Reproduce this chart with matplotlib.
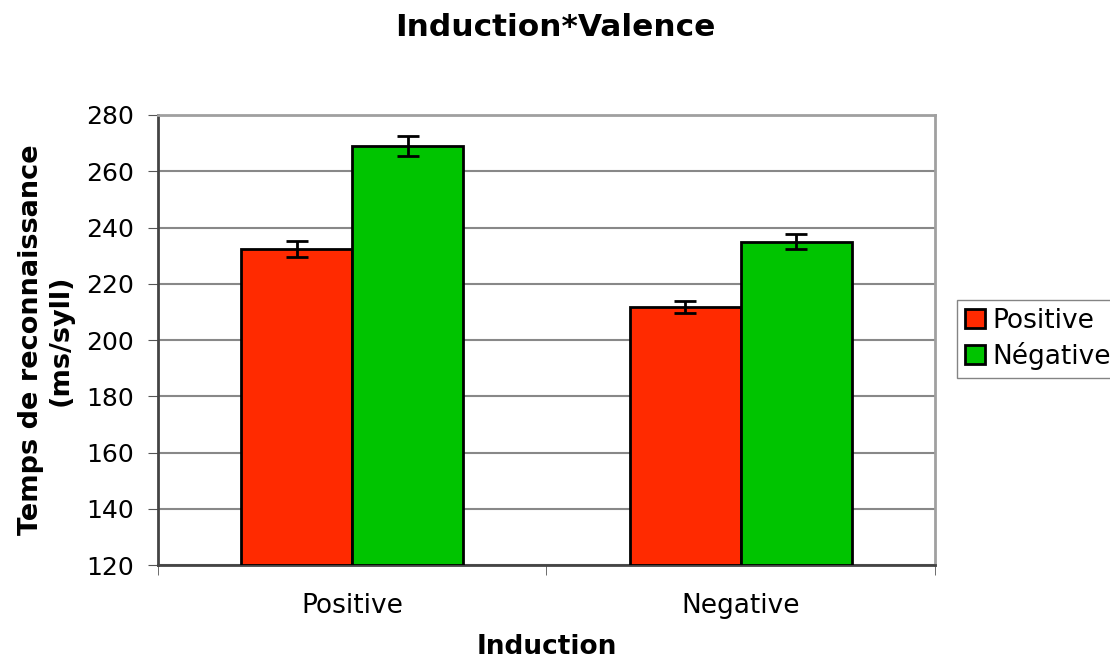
import matplotlib

matplotlib.use("Agg")

import matplotlib.pyplot as plt
import numpy as np

categories = ["Positive", "Negative"]
series_names = ["Positive", "Négative"]
means_positive = [232.4, 211.7]
means_negative = [269.0, 235.0]
err_positive = [2.8, 2.1]
err_negative = [3.5, 2.6]
colors = ["#ff2a00", "#00c400"]

plt.rcParams["font.family"] = ["DejaVu Sans"]

fig = plt.figure(figsize=(11.1, 6.59), dpi=100)
ax = fig.add_axes([0.1423, 0.1426, 0.7, 0.6829])

x = np.arange(len(categories))
width = 0.286
for i, (vals, errs) in enumerate([(means_positive, err_positive), (means_negative, err_negative)]):
    offset = (i - 0.5) * width
    ax.bar(x + offset, np.array(vals) - 120, width, bottom=120, color=colors[i],
           edgecolor="black", linewidth=2, label=series_names[i], zorder=3)
    ax.errorbar(x + offset, vals, yerr=errs, fmt="none", ecolor="black",
                elinewidth=2, capsize=8, capthick=2, zorder=4)

ax.set_xlim(-0.5, 1.5)
ax.set_ylim(120, 280)
ax.set_yticks(np.arange(120, 281, 20))
ax.yaxis.grid(True, color="#888888", linewidth=1.5, zorder=0)
ax.set_xticks(x)
ax.set_xticklabels(categories, fontsize=19)
ax.set_xticks([-0.5, 0.5, 1.5], minor=True)
ax.tick_params(axis="x", which="major", length=0, pad=20)
ax.tick_params(axis="x", which="minor", length=7, color="#555555")
ax.tick_params(axis="y", labelsize=18, length=7, color="#555555", pad=10)

for side in ["top", "right"]:
    ax.spines[side].set_color("#a0a0a0")
    ax.spines[side].set_linewidth(2)
ax.spines["left"].set_color("#444444")
ax.spines["left"].set_linewidth(2)
ax.spines["bottom"].set_color("#444444")
ax.spines["bottom"].set_linewidth(2)

ax.set_xlabel("Induction", fontsize=19, fontweight="bold", labelpad=11)
ax.set_ylabel("Temps de reconnaissance\n(ms/syll)", fontsize=19.5, fontweight="bold", labelpad=9)
fig.text(0.5, 0.959, "Induction*Valence", fontsize=22.5, fontweight="bold",
         ha="center", va="center")

fig.legend(loc="upper left", bbox_to_anchor=(0.862, 0.545), borderaxespad=0, fontsize=19,
           frameon=True, fancybox=False, edgecolor="#666666",
           handlelength=0.75, handleheight=0.75, handletextpad=0.3, borderpad=0.3,
           labelspacing=0.3)

fig.savefig("out.png", dpi=100)
